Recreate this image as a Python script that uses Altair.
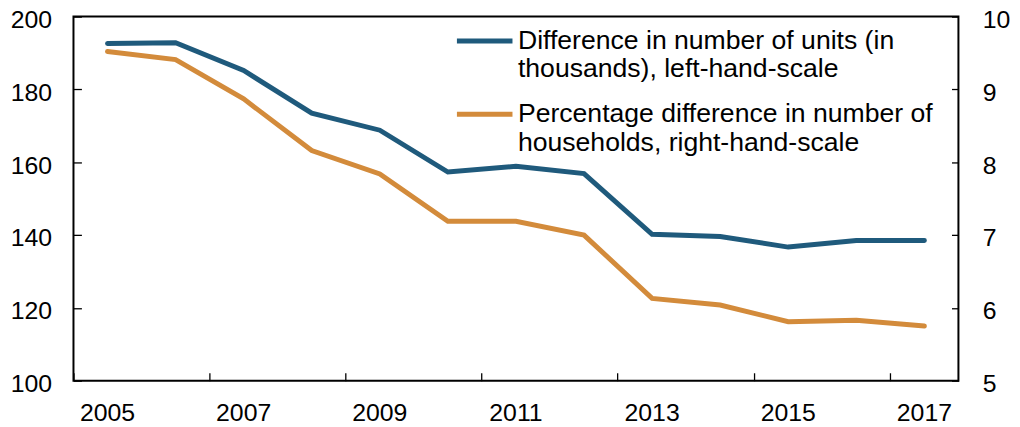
import altair as alt
import pandas as pd

years = list(range(2005, 2018))
units = [192.6, 192.8, 185.2, 173.5, 168.8, 157.3, 158.9, 156.9, 140.2, 139.6, 136.7, 138.5, 138.5]
pct = [9.52, 9.41, 8.87, 8.16, 7.84, 7.19, 7.19, 7.00, 6.13, 6.04, 5.81, 5.83, 5.75]
series_units = "Difference in number of units (in|thousands), left-hand-scale"
series_pct = "Percentage difference in number of|households, right-hand-scale"
x_label_years = [2005, 2007, 2009, 2011, 2013, 2015, 2017]
left_ticks = [100, 120, 140, 160, 180, 200]
right_ticks = [5, 6, 7, 8, 9, 10]

df = pd.DataFrame({
    "year": years * 2,
    "value": units + pct,
    "series": [series_units] * len(years) + [series_pct] * len(years),
})

FONT = "Liberation Sans"

color = alt.Color(
    "series:N",
    scale=alt.Scale(domain=[series_units, series_pct], range=["#1F5A7C", "#D38B3B"]),
    legend=alt.Legend(
        title=None, orient="none", legendX=384, legendY=-6,
        labelExpr="split(datum.label, '|')",
        labelFont=FONT, labelFontSize=26.8, labelLimit=700, labelColor="black",
        labelBaseline="middle",
        symbolType="stroke", symbolSize=3136, symbolStrokeWidth=5,
        labelOffset=3, rowPadding=-5, padding=0,
    ),
)

xaxis = alt.Axis(
    values=x_label_years, bandPosition=0, tickSize=8, offset=-8, domain=False,
    labelPadding=20, labelAngle=0, title=None, grid=False,
)
x = alt.X("year:O", scale=alt.Scale(type="band", paddingInner=0, paddingOuter=0), axis=xaxis)

left = alt.Chart(df).transform_filter(
    alt.datum.series == series_units
).mark_line(strokeWidth=5, strokeCap="round").encode(
    x=x,
    y=alt.Y("value:Q", scale=alt.Scale(domain=[100, 200], nice=False, zero=False),
            axis=alt.Axis(values=left_ticks, orient="left", tickSize=8, offset=-8,
                          domain=False, labelPadding=22, labelOffset=3,
                          title=None, grid=False)),
    color=color,
)

right = alt.Chart(df).transform_filter(
    alt.datum.series == series_pct
).mark_line(strokeWidth=5, strokeCap="round").encode(
    x=x,
    y=alt.Y("value:Q", scale=alt.Scale(domain=[5, 10], nice=False, zero=False),
            axis=alt.Axis(values=right_ticks, orient="right", tickSize=7, offset=-7,
                          domain=False, labelPadding=24, labelOffset=3,
                          title=None, grid=False)),
    color=color,
)

chart = alt.layer(left, right).resolve_scale(y="independent").properties(
    width=892, height=367,
    autosize=alt.AutoSizeParams(type="none"),
    padding={"left": 66, "top": 7, "right": 54, "bottom": 46},
).configure_view(
    stroke="black", strokeWidth=2
).configure_axis(
    labelFont=FONT, labelFontSize=25, labelColor="black",
    tickColor="black", tickWidth=1.3,
)

chart.save("out.html", embed_options={"renderer": "svg", "actions": False})
